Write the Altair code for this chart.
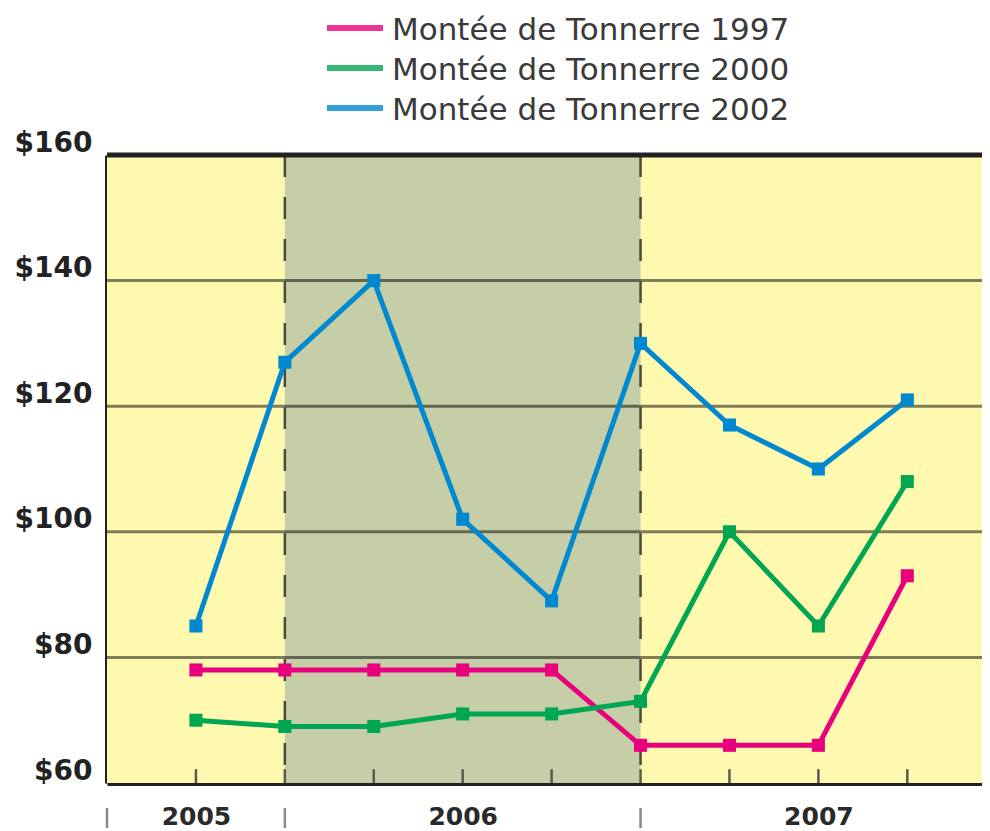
import altair as alt
import pandas as pd

# ---- data ----
periods = [0, 1, 2, 3, 4, 5, 6, 7, 8]
series_names = ["Montée de Tonnerre 1997", "Montée de Tonnerre 2000", "Montée de Tonnerre 2002"]
v1997 = [78, 78, 78, 78, 78, 66, 66, 66, 93]
v2000 = [70, 69, 69, 71, 71, 73, 100, 85, 108]
v2002 = [85, 127, 140, 102, 89, 130, 117, 110, 121]
colors = ["#E8007D", "#00A651", "#0088D1"]

year_labels = ["2005", "2006", "2007"]
year_label_pos = [0, 3, 7]
year_separators = [-1, 1, 5]
shade_span = [1, 5]
y_ticks = [60, 80, 100, 120, 140, 160]
grid_values = [80, 100, 120, 140]

rows = []
for name, vals in zip(series_names, [v1997, v2000, v2002]):
    for p, v in zip(periods, vals):
        rows.append({"period": p, "value": v, "series": name})
df = pd.DataFrame(rows)

W, H = 875, 628
XMIN, XMAX = -1, 8.84
YMIN, YMAX = 60, 160
FONT = "DejaVu Sans"

xscale = alt.Scale(domain=[XMIN, XMAX], nice=False, zero=False)
yscale = alt.Scale(domain=[YMIN, YMAX], nice=False, zero=False)

label_expr = " : ".join(
    f"datum.value == {p} ? '{l}'" for p, l in zip(year_label_pos, year_labels)
) + " : ''"

xaxis = alt.Axis(values=year_label_pos, labelExpr=label_expr, title=None, ticks=False,
                 grid=False, domainWidth=5, domainColor="#222222", labelFontSize=25,
                 labelFont=FONT, labelFontWeight="bold", labelColor="#2a2a2a",
                 labelPadding=21, labelBaseline="top")
yaxis = alt.Axis(values=y_ticks, labelExpr="'$' + datum.value", title=None, ticks=False,
                 grid=False, domainWidth=5, domainColor="#222222", labelFontSize=28,
                 labelFont=FONT, labelFontWeight="bold", labelColor="#222222",
                 labelPadding=15, labelBaseline="alphabetic", labelOffset=-4)

def X(field="period"):
    return alt.X(f"{field}:Q", scale=xscale, axis=xaxis)

def Y(field="value"):
    return alt.Y(f"{field}:Q", scale=yscale, axis=yaxis)

bg_df = pd.DataFrame({"x": [XMIN], "x2": [XMAX], "y": [YMIN], "y2": [YMAX]})
background = alt.Chart(bg_df).mark_rect(color="#FFF9B0").encode(
    x=X("x"), x2="x2:Q", y=Y("y"), y2="y2:Q")

shade_df = pd.DataFrame({"x": [shade_span[0]], "x2": [shade_span[1]], "y": [YMIN], "y2": [YMAX]})
shade = alt.Chart(shade_df).mark_rect(color="#C5CEA7").encode(
    x=X("x"), x2="x2:Q", y=Y("y"), y2="y2:Q")

grid = alt.Chart(pd.DataFrame({"g": grid_values})).mark_rule(
    color="#000000", opacity=0.5, strokeWidth=3).encode(y=Y("g"))

dashed = alt.Chart(pd.DataFrame({"d": shade_span})).mark_rule(
    color="#4a4a40", strokeWidth=2.5, strokeDash=[22, 20]).encode(x=X("d"))

tick_df = pd.DataFrame({"t": periods, "y": [YMIN] * len(periods), "y2": [YMIN + 2.2] * len(periods)})
inner_ticks = alt.Chart(tick_df).mark_rule(color="#5a5a4a", strokeWidth=2.5).encode(
    x=X("t"), y=Y("y"), y2="y2:Q")

top_border = alt.Chart(pd.DataFrame({"b": [YMAX]})).mark_rule(
    color="#222222", strokeWidth=5).encode(y=Y("b"))

cscale = alt.Scale(domain=series_names, range=colors)

lines = alt.Chart(df).mark_line(strokeWidth=5).encode(
    x=X(), y=Y(), color=alt.Color("series:N", scale=cscale, legend=None), order="period:Q")

points = alt.Chart(df).mark_point(shape="square", filled=True, size=170, opacity=1).encode(
    x=X(), y=Y(), color=alt.Color("series:N", scale=cscale, legend=None))

sep = alt.Chart(pd.DataFrame({"s": year_separators})).mark_rule(
    color="#8a8a8a", strokeWidth=2.5).encode(
    x=X("s"), y=alt.value(H + 25), y2=alt.value(H + 45))

# manual legend above the plot
leg_df = pd.DataFrame({"series": series_names, "rank": list(range(len(series_names)))})
leg_base = alt.Chart(leg_df).transform_calculate(
    ly="-127 + 40 * datum.rank", ty="-115 + 40 * datum.rank")
leg_lines = leg_base.mark_rule(strokeWidth=6, opacity=0.8).encode(
    x=alt.value(220), x2=alt.value(276), y=alt.Y("ly:Q", scale=None),
    color=alt.Color("series:N", scale=cscale, legend=None))
leg_text = leg_base.mark_text(align="left", baseline="alphabetic", font=FONT, fontSize=31,
                              color="#3a3a3a").encode(
    x=alt.value(285), y=alt.Y("ty:Q", scale=None), text="series:N")

chart = alt.layer(background, shade, grid, dashed, inner_ticks, top_border, lines, points, sep,
                  leg_lines, leg_text).properties(
    width=W, height=H,
    autosize=alt.AutoSizeParams(type="none"),
    padding={"left": 99, "top": 147, "right": 0, "bottom": 48},
).configure_view(stroke=None)

chart.save("out.html", embed_options={"renderer": "svg", "actions": False})
